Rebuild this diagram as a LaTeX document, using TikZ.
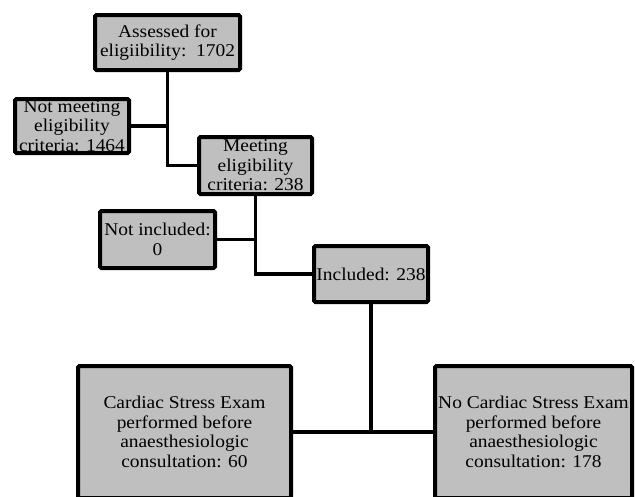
\documentclass[tikz,border=0pt]{standalone}
\usepackage{fontspec}
\setmainfont{Liberation Serif}[FakeStretch=1.08]
\definecolor{boxgray}{RGB}{191,191,191}
\begin{document}
\begin{tikzpicture}[x=1pt,y=-1pt,
  box/.style={draw=black, line width=4pt, fill=boxgray, rounded corners=1.5pt,
    align=center, inner sep=0pt, font=\fontsize{18}{19.5}\selectfont},
  link/.style={line width=3.6pt}]
\useasboundingbox (0,0) rectangle (635,496);
\clip (0,0) rectangle (635,496);
\node[box, minimum width=145pt, minimum height=55pt] (A) at (167.5,42.5) {Assessed for\\eligiibility:\ \ 1702};
\node[box, minimum width=114pt, minimum height=54pt] (NM) at (72,126) {Not meeting\\eligibility\\criteria: 1464};
\node[box, minimum width=113pt, minimum height=57pt] (M) at (255.5,165.5) {Meeting\\eligibility\\criteria: 238};
\node[box, minimum width=115pt, minimum height=57pt] (NI) at (157.5,239.5) {Not included:\\0};
\node[box, minimum width=114pt, minimum height=56pt] (I) at (371,274) {Included: 238};
\node[box, minimum width=213pt, minimum height=132pt] (C) at (184.5,432) {Cardiac Stress Exam\\performed before\\anaesthesiologic\\consultation: 60};
\node[box, minimum width=197pt, minimum height=132pt] (NC) at (533.5,432) {No Cardiac Stress Exam\\performed before\\anaesthesiologic\\consultation: 178};
\draw[link] (A.south) |- (M.west);
\draw[link] (NM.east) -- (NM.east -| A.south);
\draw[link] (M.south) |- (I.west);
\draw[link] (NI.east) -- (NI.east -| M.south);
\draw[link] (I.south) -- (I.south |- C.east);
\draw[link] (C.east) -- (NC.west);
\end{tikzpicture}
\end{document}
